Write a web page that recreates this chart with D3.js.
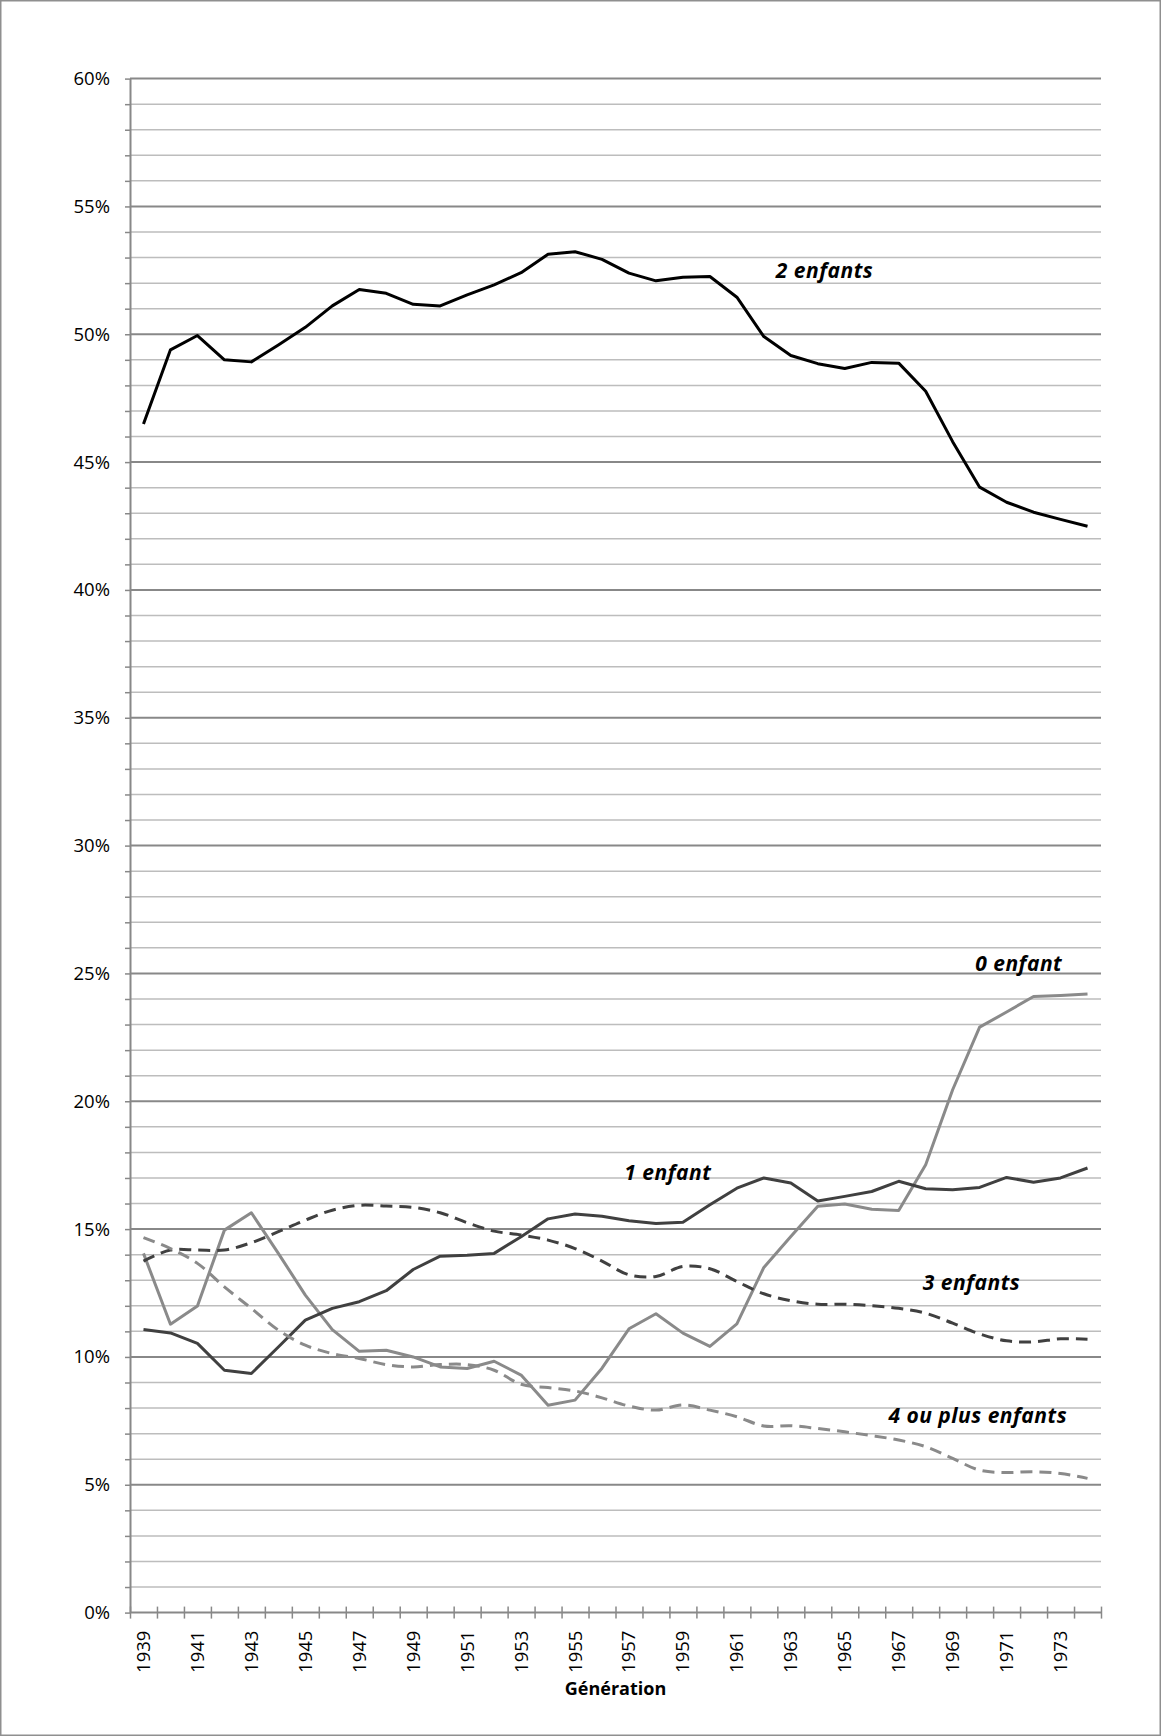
<!DOCTYPE html>
<html>
<head>
<meta charset="utf-8">
<script src="https://cdn.jsdelivr.net/npm/d3@7/dist/d3.min.js"></script>
<style>
    html, body { margin: 0; padding: 0; background: #fff; }
    svg { display: block; font-family: "Open Sans", "Noto Sans", sans-serif; }
</style>
</head>
<body>
<div id="chart"></div>
<script>
// Générations (axe des X)
const annees = [1939, 1940, 1941, 1942, 1943, 1944, 1945, 1946, 1947, 1948, 1949, 1950,
    1951, 1952, 1953, 1954, 1955, 1956, 1957, 1958, 1959, 1960, 1961, 1962,
    1963, 1964, 1965, 1966, 1967, 1968, 1969, 1970, 1971, 1972, 1973, 1974];

// Parts en %
const zeroEnfant = [14.05, 11.28, 11.99, 14.96, 15.64, 14.05, 12.42, 11.07, 10.22, 10.26, 10.0, 9.61,
    9.55, 9.83, 9.29, 8.11, 8.31, 9.56, 11.10, 11.69, 10.93, 10.41, 11.29, 13.50,
    14.71, 15.89, 15.98, 15.78, 15.73, 17.52, 20.45, 22.90, 23.49, 24.10, 24.14, 24.20];
const unEnfant = [11.07, 10.94, 10.53, 9.48, 9.35, 10.39, 11.44, 11.90, 12.16, 12.59, 13.42, 13.94,
    13.98, 14.05, 14.70, 15.40, 15.59, 15.50, 15.33, 15.22, 15.27, 15.95, 16.60, 17.00,
    16.80, 16.10, 16.28, 16.47, 16.87, 16.58, 16.54, 16.63, 17.02, 16.83, 17.00, 17.39];
const deuxEnfants = [46.49, 49.39, 49.95, 49.00, 48.92, 49.58, 50.27, 51.11, 51.75, 51.60, 51.17, 51.11,
    51.54, 51.93, 52.41, 53.13, 53.23, 52.93, 52.39, 52.09, 52.23, 52.26, 51.45, 49.91,
    49.17, 48.85, 48.66, 48.90, 48.87, 47.77, 45.80, 44.02, 43.43, 43.04, 42.76, 42.49];
const troisEnfants = [13.75, 14.18, 14.18, 14.18, 14.47, 14.90, 15.35, 15.74, 15.93, 15.90, 15.85, 15.64,
    15.25, 14.92, 14.77, 14.57, 14.24, 13.75, 13.21, 13.15, 13.54, 13.45, 12.95, 12.47,
    12.20, 12.06, 12.06, 12.00, 11.90, 11.71, 11.32, 10.90, 10.63, 10.59, 10.71, 10.69];
const quatrePlus = [14.67, 14.24, 13.66, 12.74, 11.90, 11.05, 10.46, 10.13, 9.94, 9.70, 9.61, 9.70,
    9.70, 9.48, 8.93, 8.80, 8.67, 8.40, 8.08, 7.92, 8.12, 7.92, 7.66, 7.30,
    7.31, 7.20, 7.07, 6.92, 6.75, 6.49, 6.03, 5.57, 5.48, 5.51, 5.44, 5.25];

// Graduations
const yMajeurs = [0, 5, 10, 15, 20, 25, 30, 35, 40, 45, 50, 55, 60];
const anneesAffichees = [1939, 1941, 1943, 1945, 1947, 1949, 1951, 1953, 1955, 1957,
    1959, 1961, 1963, 1965, 1967, 1969, 1971, 1973];

// Etiquettes des séries (année / valeur du point d'ancrage)
const etiquettes = [
    { texte: '2 enfants', annee: 1964.25, valeur: 52.2 },
    { texte: '0 enfant', annee: 1971.45, valeur: 25.09 },
    { texte: '1 enfant', annee: 1958.44, valeur: 16.93 },
    { texte: '3 enfants', annee: 1969.7, valeur: 12.63 },
    { texte: '4 ou plus enfants', annee: 1969.93, valeur: 7.42 }
];

const W = 1161, H = 1736;
const gauche = 130, droite = 1101, haut = 78.6, bas = 1612.6;

const svg = d3.select('#chart').append('svg')
    .attr('width', W)
    .attr('height', H);

svg.append('rect')
    .attr('x', 0.75).attr('y', 0.75)
    .attr('width', W - 1.5).attr('height', H - 1.5)
    .attr('fill', '#fff')
    .attr('stroke', '#8f8f8f')
    .attr('stroke-width', 1.5);

const x = d3.scaleBand().domain(annees).range([gauche, droite]).padding(0);
const xLin = d3.scaleLinear().domain([annees[0] - 0.5, annees[annees.length - 1] + 0.5]).range([gauche, droite]);
const y = d3.scaleLinear().domain([0, 60]).range([bas, haut]);
const xc = a => x(a) + x.bandwidth() / 2;

// Quadrillage secondaire (1 %) puis principal (5 %)
const mineurs = d3.range(1, 61).filter(v => v % 5 !== 0);
svg.append('g').selectAll('line')
    .data(mineurs)
    .enter().append('line')
    .attr('x1', gauche).attr('x2', droite)
    .attr('y1', d => y(d)).attr('y2', d => y(d))
    .attr('stroke', '#bdbdbd')
    .attr('stroke-width', 1.5);

svg.append('g').selectAll('line')
    .data(yMajeurs.filter(v => v > 0))
    .enter().append('line')
    .attr('x1', gauche).attr('x2', droite)
    .attr('y1', d => y(d)).attr('y2', d => y(d))
    .attr('stroke', '#888')
    .attr('stroke-width', 2);

// Axe Y
const axeY = svg.append('g')
    .attr('transform', `translate(${gauche},0)`)
    .call(d3.axisLeft(y)
        .tickValues(d3.range(0, 61))
        .tickSize(5)
        .tickSizeOuter(0)
        .tickPadding(15)
        .tickFormat(d => d % 5 === 0 ? d + '%' : ''));
axeY.select('.domain').attr('stroke', '#888').attr('stroke-width', 2);
axeY.selectAll('.tick line').attr('stroke', '#888').attr('stroke-width', 1.5);
axeY.selectAll('.tick text')
    .attr('font-family', '"Open Sans", "Noto Sans", sans-serif')
    .attr('font-size', 18.5)
    .attr('fill', '#000');

// Axe X : graduations en croix aux bords des catégories
const bords = d3.range(annees.length + 1).map(i => annees[0] - 0.5 + i);
const axeXTicks = svg.append('g')
    .attr('transform', `translate(0,${bas - 6})`)
    .call(d3.axisBottom(xLin).tickValues(bords).tickSize(12).tickFormat(''));
axeXTicks.select('.domain').remove();
axeXTicks.selectAll('.tick line').attr('stroke', '#888').attr('stroke-width', 1.5);

svg.append('line')
    .attr('x1', gauche).attr('x2', droite)
    .attr('y1', bas).attr('y2', bas)
    .attr('stroke', '#888')
    .attr('stroke-width', 2);

const axeX = svg.append('g')
    .attr('transform', `translate(0,${bas})`)
    .call(d3.axisBottom(x).tickValues(anneesAffichees).tickSize(0));
axeX.select('.domain').remove();
axeX.selectAll('.tick text')
    .attr('font-family', '"Open Sans", "Noto Sans", sans-serif')
    .attr('font-size', 18.5)
    .attr('fill', '#000')
    .attr('transform', 'rotate(-90)')
    .attr('text-anchor', 'end')
    .attr('x', -18)
    .attr('y', 0)
    .attr('dy', '0.35em');

svg.append('text')
    .attr('x', (gauche + droite) / 2)
    .attr('y', 1695)
    .attr('text-anchor', 'middle')
    .attr('font-size', 18)
    .attr('font-weight', 'bold')
    .attr('fill', '#000')
    .text('Génération');

// Séries
const series = [
    { valeurs: zeroEnfant, couleur: '#8a8a8a', tirets: null },
    { valeurs: unEnfant, couleur: '#404040', tirets: null },
    { valeurs: deuxEnfants, couleur: '#000', tirets: null },
    { valeurs: troisEnfants, couleur: '#404040', tirets: '12,7' },
    { valeurs: quatrePlus, couleur: '#8a8a8a', tirets: '12,7' }
];

series.forEach(s => {
    const ligne = d3.line()
        .x((d, i) => xc(annees[i]))
        .y(d => y(d))
        .curve(s.tirets ? d3.curveCatmullRom.alpha(0.5) : d3.curveLinear);
    svg.append('path')
        .datum(s.valeurs)
        .attr('d', ligne)
        .attr('fill', 'none')
        .attr('stroke', s.couleur)
        .attr('stroke-width', 3)
        .attr('stroke-linejoin', 'round')
        .attr('stroke-dasharray', s.tirets);
});

// Noms des séries
svg.append('g').selectAll('text')
    .data(etiquettes)
    .enter().append('text')
    .attr('x', d => xLin(d.annee))
    .attr('y', d => y(d.valeur))
    .attr('text-anchor', 'middle')
    .attr('font-size', 21)
    .attr('font-weight', 'bold')
    .attr('font-style', 'italic')
    .attr('letter-spacing', '0.5px')
    .attr('fill', '#000')
    .text(d => d.texte);
</script>
</body>
</html>
